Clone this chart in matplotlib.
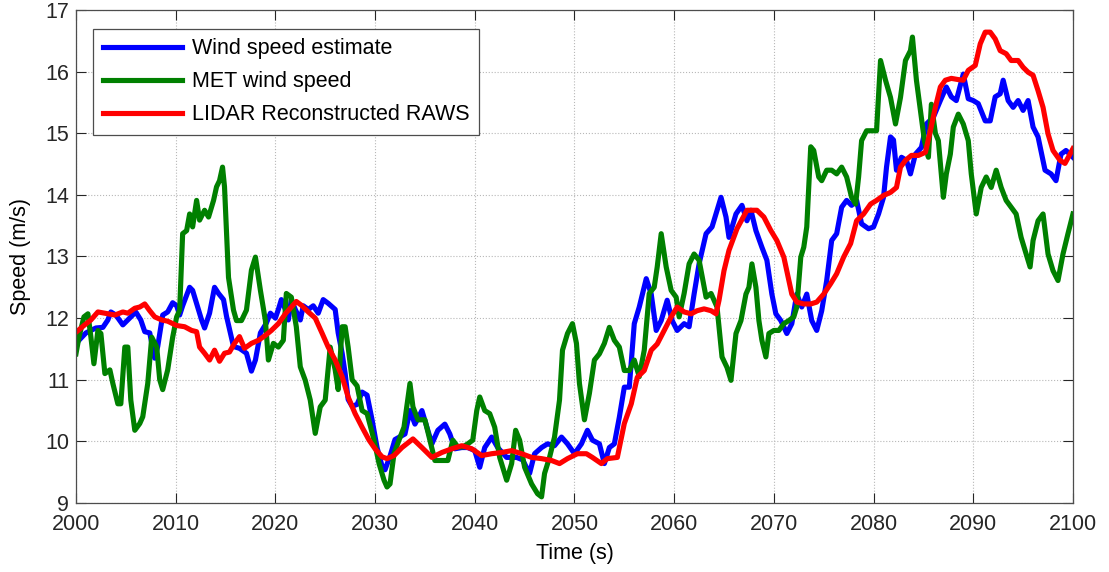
import matplotlib
matplotlib.use('Agg')
import matplotlib.pyplot as plt

plt.rcParams['font.family'] = ['Liberation Sans', 'DejaVu Sans']

# wind speed estimate (blue)
est_t = [2000, 2001, 2002, 2002.7, 2003.2, 2003.5, 2004, 2004.7, 2005.2, 2006, 2006.5,
         2006.9, 2007.4, 2007.9, 2008.2, 2008.7, 2009.2, 2009.7, 2010.1, 2010.4, 2010.7,
         2011.4, 2011.7, 2012.6, 2012.9, 2013.4, 2013.9, 2014.3, 2014.8, 2015.1, 2015.8,
         2016.4, 2017.1, 2017.6, 2018, 2018.5, 2019.1, 2019.5, 2020, 2020.3, 2020.6,
         2021, 2021.3, 2021.6, 2022, 2022.5, 2022.8, 2023.3, 2023.8, 2024.3, 2024.8,
         2025.3, 2026, 2026.3, 2026.7, 2027, 2027.3, 2027.7, 2028.2, 2028.7, 2029.2,
         2029.7, 2030.2, 2030.7, 2031, 2031.5, 2032, 2033, 2033.5, 2034, 2034.7,
         2035.2, 2035.7, 2036.3, 2037, 2037.5, 2038, 2038.7, 2039.3, 2040, 2040.5,
         2041, 2041.7, 2042.3, 2043.2, 2044.2, 2044.8, 2045.5, 2046, 2046.7, 2047.3,
         2048, 2048.7, 2049.3, 2050, 2050.7, 2051.3, 2051.8, 2052.5, 2053, 2053.5,
         2054, 2054.5, 2055, 2055.5, 2056, 2056.5, 2057.2, 2057.7, 2058.2, 2058.7,
         2059.3, 2059.8, 2060.3, 2061, 2061.5, 2062, 2062.5, 2063.2, 2063.8, 2064.7,
         2065.2, 2065.5, 2066.2, 2066.8, 2067.3, 2067.7, 2068.2, 2068.8, 2069.3, 2069.8,
         2070.2, 2070.7, 2071.3, 2071.8, 2072.3, 2072.8, 2073.3, 2073.8, 2074.3, 2074.8,
         2075.3, 2075.8, 2076.3, 2076.8, 2077.3, 2077.8, 2078.3, 2078.8, 2079.5, 2080,
         2080.5, 2081, 2081.3, 2081.7, 2082, 2082.3, 2082.8, 2083.3, 2083.7, 2084.2,
         2084.8, 2085.3, 2086, 2086.7, 2087.3, 2087.8, 2088.3, 2089, 2089.5, 2090,
         2090.5, 2091.2, 2091.7, 2092.2, 2092.7, 2093, 2093.5, 2094, 2094.5, 2095,
         2095.5, 2096, 2096.5, 2097.2, 2097.8, 2098.3, 2098.8, 2099.3, 2100]
est_v = [11.59, 11.76, 11.84, 11.85, 11.97, 12.1, 12.05, 11.89, 11.97, 12.1, 11.97,
         11.78, 11.76, 11.35, 11.54, 12.05, 12.1, 12.25, 12.2, 12.05, 12.2,
         12.5, 12.45, 11.97, 11.84, 12.08, 12.5, 12.4, 12.3, 12.03, 11.54,
         11.51, 11.43, 11.14, 11.32, 11.76, 11.92, 12.08, 12.0, 12.14, 12.3,
         12.14, 11.97, 12.3, 12.14, 11.97, 12.2, 12.14, 12.2, 12.08, 12.3,
         12.24, 12.14, 11.76, 11.43, 11.1, 10.68, 10.57, 10.6, 10.8, 10.75,
         10.35, 9.9, 9.6, 9.54, 9.76, 10.03, 10.12, 10.5, 10.28, 10.5,
         10.23, 9.96, 10.18, 10.28, 10.12, 9.88, 9.9, 9.9, 9.85, 9.58,
         9.9, 10.07, 9.9, 9.74, 9.74, 9.7, 9.48, 9.8, 9.9, 9.96,
         9.93, 10.07, 9.96, 9.8, 9.96, 10.18, 10.02, 9.96, 9.64, 9.9,
         9.96, 10.39, 10.88, 10.88, 11.91, 12.18, 12.64, 12.39, 11.8, 11.96,
         12.29, 11.96, 11.8, 11.91, 11.86, 12.39, 12.88, 13.37, 13.48, 13.96,
         13.64, 13.31, 13.69, 13.83, 13.58, 13.75, 13.42, 13.15, 12.94, 12.39,
         12.07, 11.96, 11.75, 11.91, 12.39, 12.18, 12.39, 11.96, 11.8, 12.12,
         12.61, 13.26, 13.37, 13.8, 13.91, 13.83, 13.91, 13.53, 13.45, 13.48,
         13.69, 13.96, 14.45, 14.94, 14.89, 14.4, 14.61, 14.56, 14.34, 14.66,
         14.77, 15.15, 15.26, 15.53, 15.75, 15.59, 15.53, 15.96, 15.56, 15.53,
         15.48, 15.2, 15.2, 15.59, 15.64, 15.86, 15.53, 15.42, 15.53, 15.37,
         15.53, 15.1, 14.94, 14.4, 14.34, 14.23, 14.66, 14.72, 14.61]

# MET wind speed (green)
met_t = [2000, 2000.3, 2000.8, 2001.2, 2001.5, 2001.8, 2002.2, 2002.5, 2002.9, 2003.4,
         2003.7, 2004.2, 2004.5, 2004.9, 2005.2, 2005.5, 2005.9, 2006.4, 2006.7, 2007.2,
         2007.6, 2008.1, 2008.4, 2008.7, 2009.2, 2009.7, 2010.1, 2010.4, 2010.7, 2011.1,
         2011.4, 2011.7, 2012.1, 2012.4, 2012.9, 2013.3, 2013.8, 2014.1, 2014.4, 2014.7,
         2014.9, 2015.3, 2015.8, 2016.1, 2016.6, 2017.1, 2017.6, 2018, 2018.5, 2019,
         2019.3, 2019.8, 2020.3, 2020.8, 2021.1, 2021.6, 2022.1, 2022.5, 2023, 2023.5,
         2024, 2024.5, 2025, 2025.5, 2026, 2026.3, 2026.7, 2027, 2027.3, 2027.7,
         2028.2, 2028.7, 2029.2, 2029.9, 2030.4, 2030.9, 2031.2, 2031.5, 2031.9, 2032.4,
         2032.9, 2033.5, 2033.8, 2034.3, 2035, 2035.5, 2036, 2036.7, 2037.3, 2037.8,
         2038.3, 2038.8, 2039.3, 2039.8, 2040.2, 2040.5, 2041, 2041.5, 2042, 2042.5,
         2043.2, 2043.7, 2044.1, 2044.5, 2045, 2045.7, 2046.3, 2046.7, 2047, 2047.5,
         2048, 2048.5, 2048.8, 2049.3, 2049.8, 2050.2, 2050.5, 2051, 2051.5, 2052,
         2052.5, 2053, 2053.5, 2054, 2054.5, 2055, 2055.5, 2056, 2056.5, 2057,
         2057.5, 2058, 2058.3, 2058.7, 2059.2, 2059.7, 2060.2, 2060.5, 2061, 2061.5,
         2062, 2062.5, 2063.2, 2063.7, 2064.3, 2064.8, 2065.3, 2065.7, 2066.2, 2066.7,
         2067.2, 2067.5, 2067.8, 2068.2, 2068.5, 2068.8, 2069.2, 2069.5, 2070, 2070.5,
         2071, 2071.5, 2072, 2072.3, 2072.7, 2073, 2073.3, 2073.7, 2074, 2074.5,
         2074.8, 2075.3, 2075.8, 2076.3, 2076.8, 2077.3, 2077.8, 2078.2, 2078.5, 2078.8,
         2079.3, 2080, 2080.3, 2080.7, 2081.2, 2081.7, 2082.2, 2082.7, 2083.2, 2083.7,
         2083.9, 2084.3, 2084.7, 2085.1, 2085.5, 2085.8, 2086.2, 2086.5, 2087, 2087.3,
         2087.7, 2088, 2088.5, 2089, 2089.5, 2089.8, 2090.3, 2090.8, 2091.3, 2091.8,
         2092.3, 2092.8, 2093.3, 2093.8, 2094.3, 2094.8, 2095.3, 2095.7, 2096, 2096.5,
         2097, 2097.5, 2098, 2098.5, 2099, 2099.5, 2100]
met_v = [11.42, 11.69, 12.02, 12.07, 11.69, 11.26, 11.8, 11.75, 11.1, 11.16,
         10.94, 10.61, 10.61, 11.53, 11.53, 10.67, 10.18, 10.29, 10.4, 10.94,
         11.69, 11.53, 11.0, 10.84, 11.16, 11.69, 12.02, 12.13, 13.37, 13.42,
         13.69, 13.48, 13.91, 13.59, 13.75, 13.64, 13.91, 14.13, 14.23, 14.45,
         14.13, 12.66, 12.13, 11.96, 11.96, 12.13, 12.78, 12.99, 12.45, 11.96,
         11.32, 11.59, 11.53, 11.64, 12.4, 12.34, 11.86, 11.21, 10.99, 10.67,
         10.13, 10.56, 10.67, 11.53, 11.16, 10.84, 11.86, 11.86, 11.53, 11.0,
         10.9, 10.5, 10.45, 10.02, 9.64, 9.37, 9.26, 9.31, 9.8, 10.02,
         10.23, 10.94, 10.56, 10.35, 10.35, 10.02, 9.69, 9.69, 9.69, 10.02,
         9.91, 9.91, 9.96, 10.02, 10.5, 10.72, 10.5, 10.45, 10.23, 9.74,
         9.37, 9.64, 10.18, 10.02, 9.58, 9.31, 9.15, 9.1, 9.48, 9.74,
         10.07, 10.67, 11.48, 11.75, 11.91, 11.59, 10.94, 10.35, 10.78, 11.32,
         11.42, 11.59, 11.85, 11.64, 11.53, 11.15, 11.15, 11.32, 11.05, 11.48,
         12.4, 12.5, 12.83, 13.37, 12.83, 12.45, 12.34, 12.02, 12.4, 12.88,
         13.04, 12.94, 12.34, 12.4, 12.18, 11.37, 11.2, 10.99, 11.75, 11.96,
         12.39, 12.5, 12.88, 12.5, 11.96, 11.64, 11.37, 11.75, 11.8, 11.8,
         11.91, 11.96, 12.02, 12.18, 12.99, 13.15, 13.48, 14.78, 14.72, 14.29,
         14.23, 14.4, 14.4, 14.34, 14.45, 14.29, 13.96, 13.85, 14.29, 14.88,
         15.04, 15.04, 15.04, 16.18, 15.86, 15.58, 15.15, 15.58, 16.18, 16.34,
         16.56, 15.86, 15.37, 14.88, 14.61, 15.47, 15.0, 14.88, 13.96, 14.34,
         14.66, 15.1, 15.31, 15.15, 14.88, 14.34, 13.69, 14.12, 14.29, 14.12,
         14.4, 14.12, 13.91, 13.8, 13.69, 13.31, 13.04, 12.83, 13.26, 13.58,
         13.69, 13.04, 12.77, 12.61, 13.04, 13.37, 13.69]

# LIDAR reconstructed RAWS (red)
lidar_t = [2000, 2000.8, 2001.5, 2002.2, 2002.9, 2003.9, 2004.7, 2005.2, 2005.9, 2006.4,
           2006.9, 2007.4, 2007.9, 2008.6, 2009.2, 2010.1, 2010.9, 2011.6, 2012.1, 2012.4,
           2012.9, 2013.4, 2013.9, 2014.4, 2014.9, 2015.4, 2015.9, 2016.4, 2016.9, 2017.6,
           2018.3, 2019, 2019.6, 2020.3, 2021, 2021.6, 2022.1, 2022.6, 2023.3, 2024,
           2024.7, 2025.3, 2026, 2026.7, 2027.3, 2028, 2028.7, 2029.4, 2030, 2030.7,
           2031.2, 2031.9, 2032.7, 2033.8, 2034.7, 2035.7, 2036.7, 2037.7, 2038.7, 2039.7,
           2040.7, 2041.7, 2042.7, 2043.7, 2044.7, 2045.7, 2046.7, 2047.7, 2048.5, 2049.3,
           2050.3, 2051.2, 2051.8, 2052.7, 2053.3, 2054.3, 2055, 2055.7, 2056.3, 2057,
           2057.7, 2058.3, 2059, 2059.7, 2060.3, 2061, 2061.7, 2062.3, 2063, 2063.7,
           2064.2, 2064.5, 2065, 2065.5, 2066.3, 2067.3, 2068.3, 2069, 2069.7, 2070.3,
           2071, 2071.5, 2071.8, 2072.3, 2073, 2073.7, 2074.3, 2075, 2075.7, 2076.3,
           2077, 2077.7, 2078.3, 2079, 2079.7, 2080.3, 2081, 2081.7, 2082.3, 2082.7,
           2083.2, 2083.8, 2084.5, 2085.2, 2085.7, 2086.2, 2086.7, 2087.2, 2087.8, 2088.5,
           2089, 2089.5, 2090.2, 2090.7, 2091.2, 2091.7, 2092.2, 2092.7, 2093.3, 2093.8,
           2094.5, 2095, 2095.5, 2096, 2096.5, 2097, 2097.5, 2098, 2098.7, 2099.2, 2100]
lidar_v = [11.77, 11.88, 11.97, 12.1, 12.08, 12.05, 12.1, 12.08, 12.16, 12.18,
           12.23, 12.12, 12.02, 11.97, 11.95, 11.88, 11.86, 11.8, 11.78, 11.53,
           11.43, 11.32, 11.48, 11.3, 11.43, 11.45, 11.59, 11.7, 11.51, 11.59,
           11.64, 11.72, 11.8, 11.91, 12.07, 12.18, 12.27, 12.21, 12.1, 12.0,
           11.75, 11.53, 11.32, 11.05, 10.72, 10.45, 10.23, 10.02, 9.88, 9.75,
           9.72, 9.77, 9.9, 10.04, 9.9, 9.74, 9.82, 9.88, 9.93, 9.88,
           9.77, 9.8, 9.82, 9.85, 9.8, 9.74, 9.72, 9.69, 9.64, 9.72,
           9.8, 9.8, 9.74, 9.64, 9.72, 9.74, 10.29, 10.61, 11.04, 11.15,
           11.48, 11.58, 11.8, 12.02, 12.18, 12.1, 12.07, 12.12, 12.15, 12.12,
           12.07, 12.29, 12.77, 13.1, 13.45, 13.75, 13.75, 13.64, 13.42, 13.26,
           12.99, 12.61, 12.39, 12.26, 12.23, 12.23, 12.26, 12.39, 12.56, 12.72,
           12.99, 13.21, 13.58, 13.69, 13.85, 13.91, 13.99, 14.04, 14.12, 14.45,
           14.56, 14.64, 14.64, 14.69, 15.04, 15.42, 15.75, 15.86, 15.89, 15.87,
           15.86, 16.02, 16.1, 16.45, 16.64, 16.64, 16.53, 16.34, 16.29, 16.18,
           16.18, 16.07, 15.99, 15.94, 15.69, 15.42, 14.99, 14.72, 14.56, 14.51, 14.75]

fig = plt.figure(figsize=(11.09, 5.72), dpi=100)
ax = fig.add_axes([0.0685, 0.1206, 0.899, 0.862])

ax.plot(est_t, est_v, color=(0, 0, 1), lw=3.7, label='Wind speed estimate')
ax.plot(met_t, met_v, color=(0, 0.5, 0), lw=3.7, label='MET wind speed')
ax.plot(lidar_t, lidar_v, color=(1, 0, 0), lw=3.7, label='LIDAR Reconstructed RAWS')

ax.set_xlim(2000, 2100)
ax.set_ylim(9, 17)
ax.set_xticks(range(2000, 2101, 10))
ax.set_yticks(range(9, 18))
ax.grid(True, ls=':', color='0.72', lw=0.8)
ax.tick_params(direction='in', top=True, right=True, length=7, width=0.8,
               labelsize=15.5, colors='0.15')
ax.tick_params(axis='x', pad=8)
ax.tick_params(axis='y', pad=5)
for s in ax.spines.values():
    s.set_color('0.3')
    s.set_linewidth(0.9)

ax.set_xlabel('Time (s)', fontsize=15.5, labelpad=6)
ax.set_ylabel('Speed (m/s)', fontsize=15.5, labelpad=10)

leg = ax.legend(loc='upper left', bbox_to_anchor=(0.017, 0.962), borderaxespad=0,
                fontsize=15.5, handlelength=3.7, handletextpad=0.45, labelspacing=0.55,
                borderpad=0.45, fancybox=False, framealpha=1, edgecolor='0.3')
leg.get_frame().set_linewidth(0.9)

fig.savefig('out.png', dpi=100)
